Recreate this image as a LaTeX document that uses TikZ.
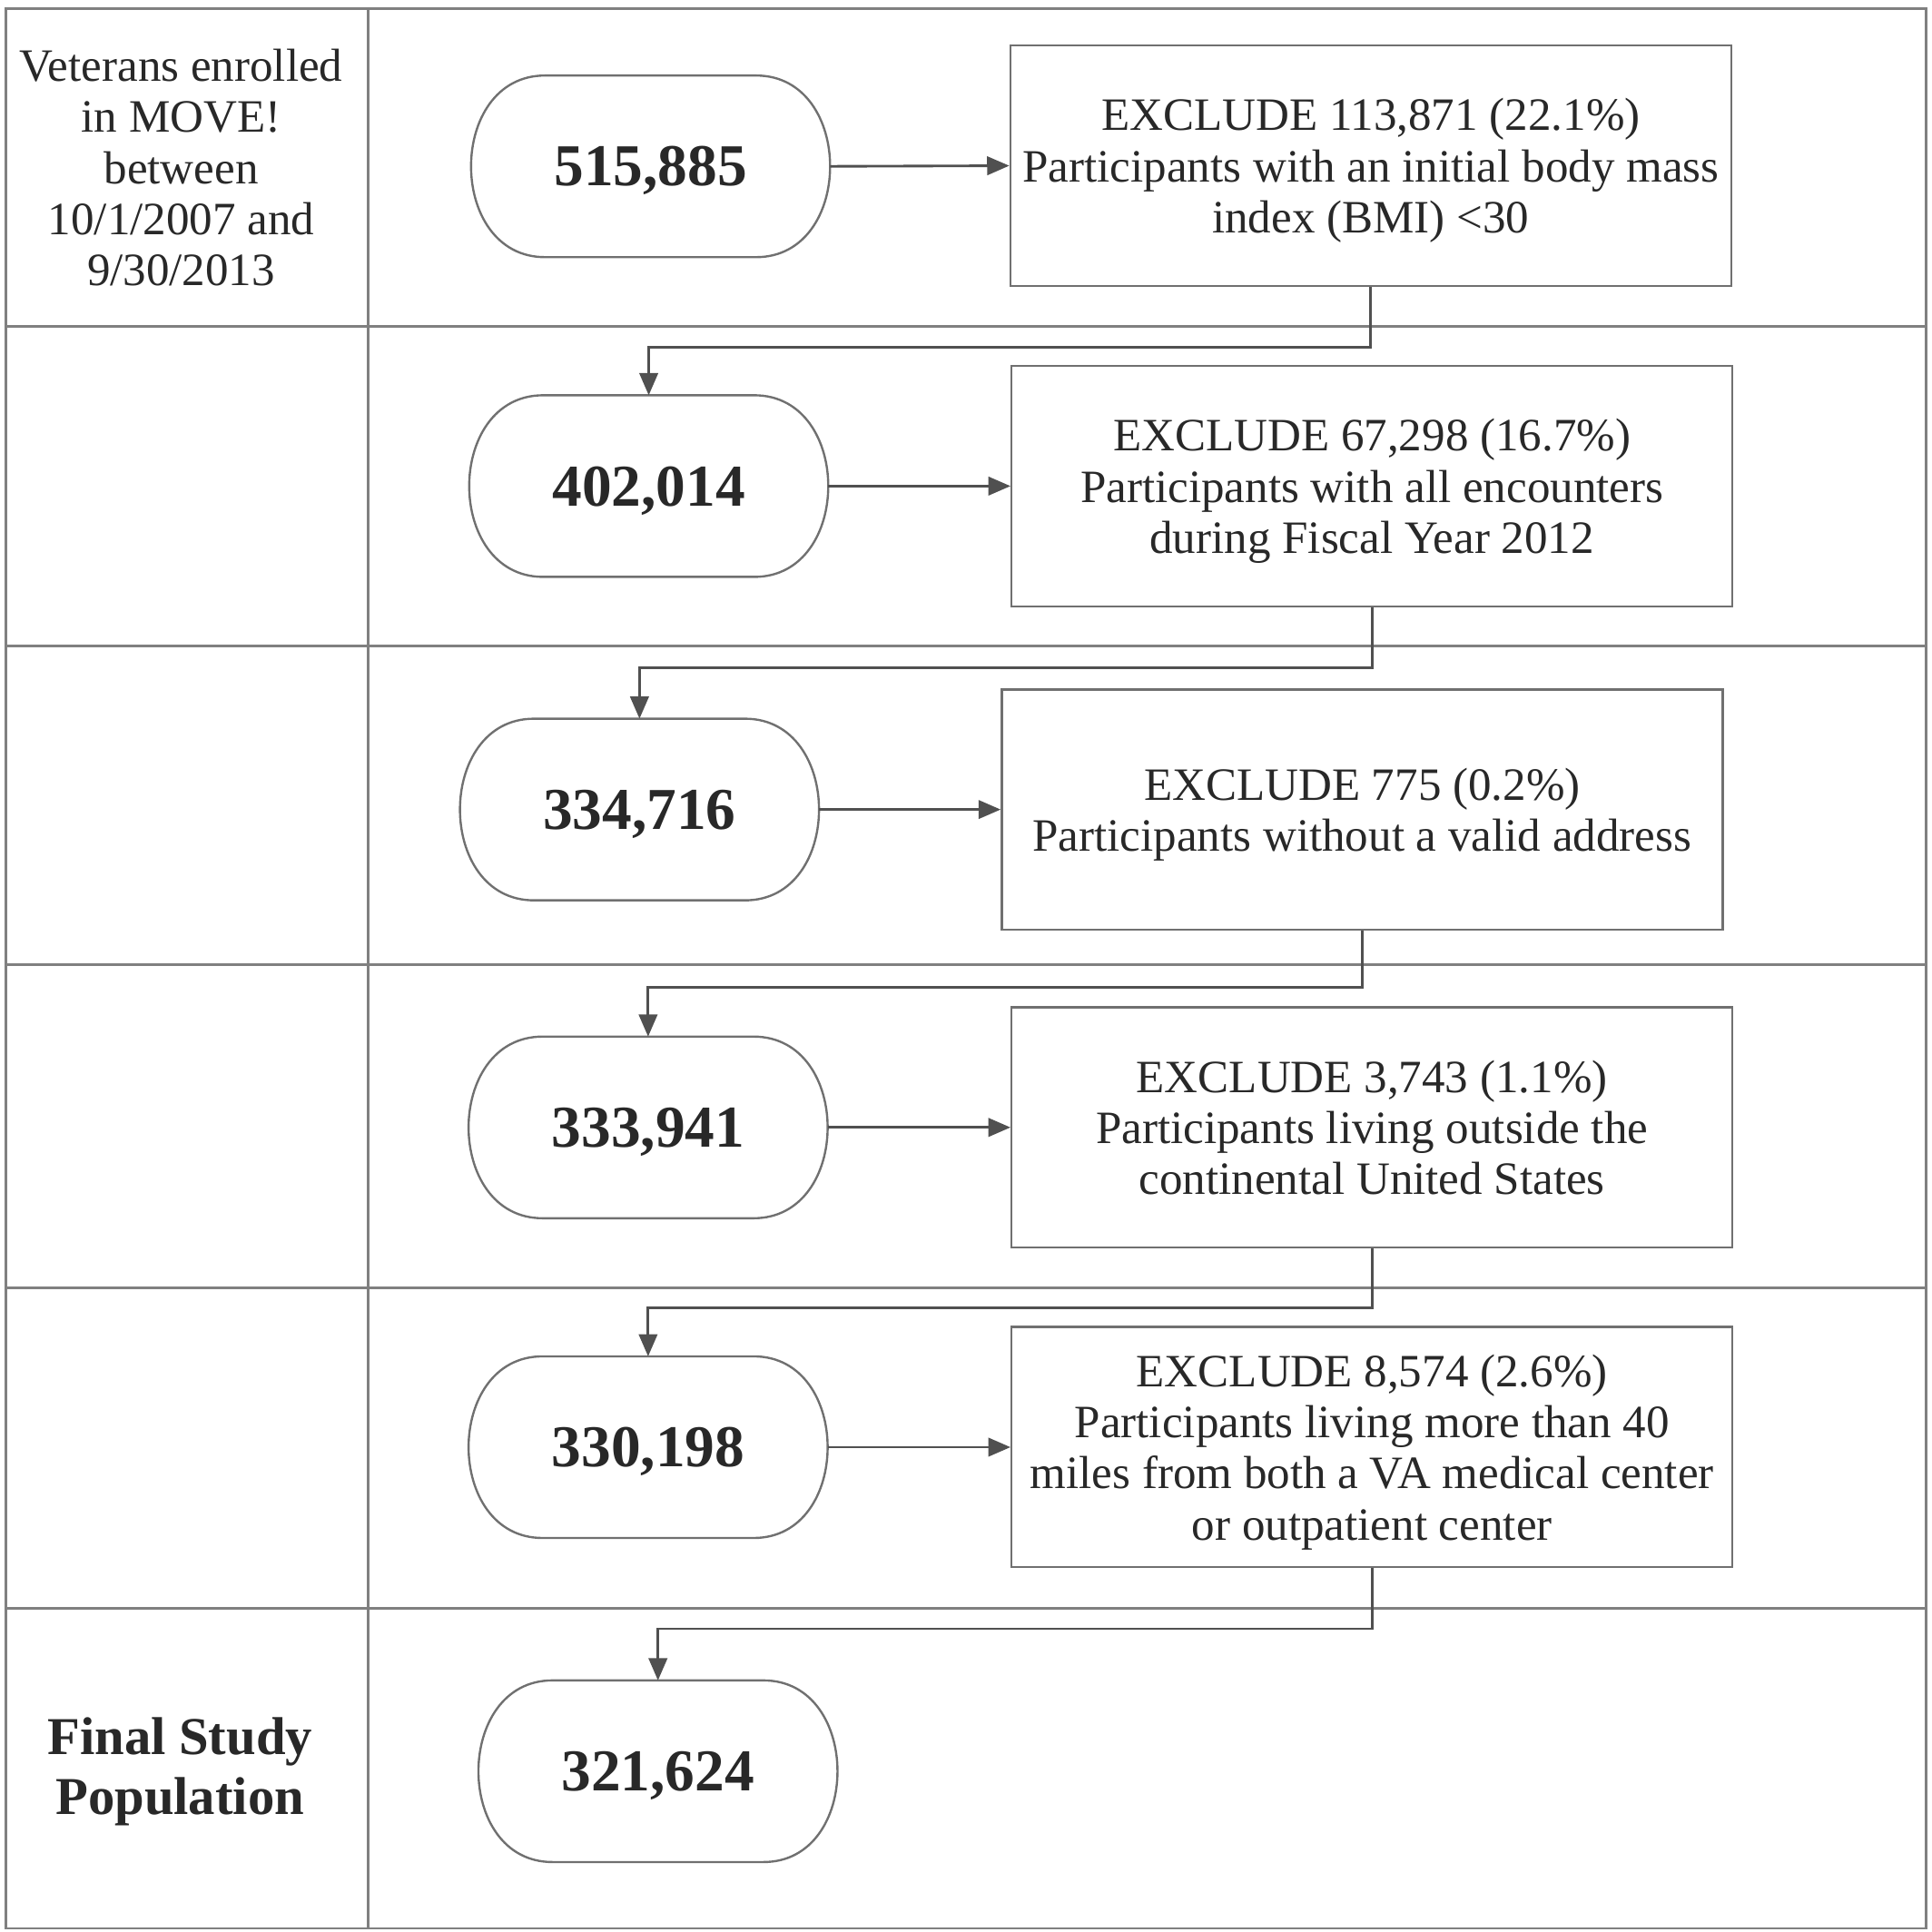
\documentclass[tikz,border=0pt]{standalone}
\usepackage{fontspec}
\setmainfont{Liberation Serif}
\usetikzlibrary{calc, positioning, arrows.meta}
\definecolor{frameGray}{RGB}{128,128,128}
\definecolor{lineGray}{RGB}{112,112,112}
\definecolor{arrowGray}{RGB}{80,80,80}
\definecolor{textDark}{RGB}{40,40,40}

\begin{document}
\begin{tikzpicture}[>={Triangle[length=1.8mm, width=1.5mm]},
  cell/.style={frameGray, line width=0.6pt},
  count/.style={minimum width=2.9cm, minimum height=1.46cm, inner sep=0pt, text depth=0pt, text=textDark,
    font=\fontsize{13.7}{16}\selectfont\bfseries},
  exclbox/.style={draw=lineGray, line width=0.5pt, minimum width=5.85cm, minimum height=1.95cm,
    inner sep=0pt, text depth=0pt, align=center, text=textDark, font=\fontsize{10.7}{11.8}\selectfont},
  side/.style={align=center, text=textDark, font=\fontsize{10.7}{11.8}\selectfont},
  flow/.style={->, arrowGray, line width=0.6pt}]
  \useasboundingbox (0,0) rectangle (15.68,-15.68);

  % table
  \draw[cell] (0.05,-0.07) rectangle (15.63,-15.65);
  \draw[cell] (2.99,-0.07) -- (2.99,-15.65);
  \foreach \y in {2.65,5.24,7.83,10.45,13.05}
    \draw[cell] (0.05,-\y) -- (15.63,-\y);

  % row labels
  \node[side] (lblStart) at (1.47,-1.36) {Veterans enrolled\\in MOVE!\\between\\10/1/2007 and\\9/30/2013};
  \node[side, font=\fontsize{12.3}{13.9}\selectfont\bfseries] (lblFinal) at (1.46,-14.38) {Final Study\\Population};

  % counts
  \node[count] (n1) at (5.28,-1.35) {515,885};
  \node[count] (n2) at (5.265,-3.945) {402,014};
  \node[count] (n3) at (5.19,-6.57) {334,716};
  \node[count] (n4) at (5.26,-9.15) {333,941};
  \node[count] (n5) at (5.26,-11.745) {330,198};
  \node[count] (n6) at (5.34,-14.375) {321,624};

  % exclusions
  \node[exclbox] (x1) at (11.125,-1.345) {EXCLUDE 113,871 (22.1\%)\\Participants with an initial body mass\\index (BMI) <30};
  \node[exclbox] (x2) at (11.135,-3.945) {EXCLUDE 67,298 (16.7\%)\\Participants with all encounters\\during Fiscal Year 2012};
  \node[exclbox] (x3) at (11.055,-6.57) {EXCLUDE 775 (0.2\%)\\Participants without a valid address};
  \node[exclbox] (x4) at (11.135,-9.15) {EXCLUDE 3,743 (1.1\%)\\Participants living outside the\\continental United States};
  \node[exclbox] (x5) at (11.135,-11.745) {EXCLUDE 8,574 (2.6\%)\\Participants living more than 40\\miles from both a VA medical center\\or outpatient center};

  % rounded outlines of the counts
  \foreach \i in {1,...,6}
    \draw[lineGray, line width=0.5pt]
      ([xshift=6mm]n\i.north west) -- ([xshift=-6mm]n\i.north east)
      .. controls ([xshift=2mm]n\i.north east) and ([xshift=2mm]n\i.south east) .. ([xshift=-6mm]n\i.south east)
      -- ([xshift=6mm]n\i.south west)
      .. controls ([xshift=-2mm]n\i.south west) and ([xshift=-2mm]n\i.north west) .. ([xshift=6mm]n\i.north west)
      -- cycle;

  % connectors
  \foreach \i in {1,...,5}
    \draw[flow] (n\i.east) -- (x\i.west);
  \draw[flow] (x1.south) -- ++(0,-0.49) -| (n2.north);
  \draw[flow] (x2.south) -- ++(0,-0.49) -| (n3.north);
  \draw[flow] (x3.south) -- ++(0,-0.46) -| (n4.north);
  \draw[flow] (x4.south) -- ++(0,-0.48) -| (n5.north);
  \draw[flow] (x5.south) -- ++(0,-0.49) -| (n6.north);
\end{tikzpicture}
\end{document}
